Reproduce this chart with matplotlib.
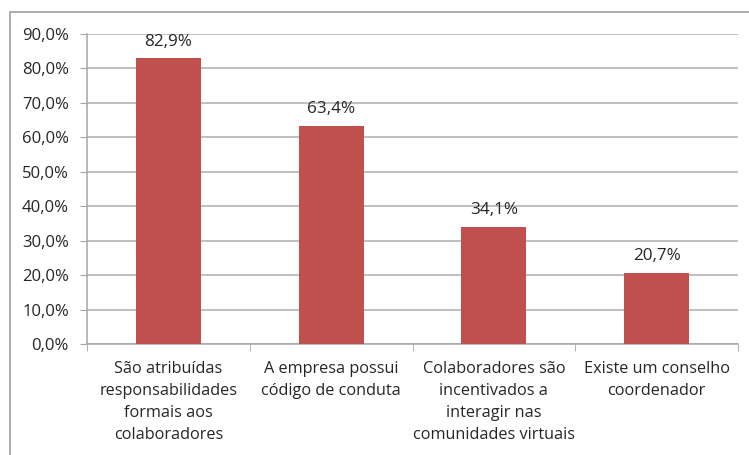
import matplotlib.pyplot as plt
from matplotlib.patches import Rectangle
from matplotlib.ticker import FuncFormatter, FixedLocator

# dados do gráfico
categorias = [
    "São atribuídas\nresponsabilidades\nformais aos\ncolaboradores",
    "A empresa possui\ncódigo de conduta",
    "Colaboradores são\nincentivados a\ninteragir nas\ncomunidades virtuais",
    "Existe um conselho\ncoordenador",
]
valores = [82.9, 63.4, 34.1, 20.7]
yticks = [0, 10, 20, 30, 40, 50, 60, 70, 80, 90]

plt.rcParams['font.family'] = ['Open Sans', 'DejaVu Sans']

fig = plt.figure(figsize=(7.49, 4.55), dpi=100)
# moldura externa
fig.patches.append(Rectangle((10 / 749, -0.05), 1.0, (455 - 12) / 455 + 0.05,
                             transform=fig.transFigure, fill=False,
                             edgecolor="#a6a6a6", linewidth=1.3))

ax = fig.add_axes([87 / 749, 1 - 344 / 455, (738 - 87) / 749, (344 - 34) / 455])
x = list(range(len(categorias)))
ax.bar(x, valores, width=0.4, color="#c0504d", zorder=3)

for xi, v in zip(x, valores):
    ax.annotate(f"{v:.1f}%".replace(".", ","), (xi, v), xytext=(0, 6),
                textcoords="offset points", ha="center", va="bottom",
                fontsize=12.3, color="#262626")

ax.set_xlim(-0.5, len(categorias) - 0.5)
ax.set_ylim(0, 90)
ax.set_yticks(yticks)
ax.yaxis.set_major_formatter(FuncFormatter(lambda v, p: f"{v:.1f}%".replace(".", ",")))
ax.grid(axis="y", color="#adadad", linewidth=1.1, zorder=0)

ax.set_xticks(x)
ax.set_xticklabels(categorias, linespacing=1.52)
ax.xaxis.set_minor_locator(FixedLocator([i - 0.5 for i in range(len(categorias) + 1)]))
ax.tick_params(axis="x", which="major", length=0, pad=12, labelsize=11.7, labelcolor="#262626")
ax.tick_params(axis="x", which="minor", length=5, color="#a6a6a6", direction="out")
ax.tick_params(axis="y", length=5, color="#a6a6a6", labelsize=12, labelcolor="#262626", pad=8)

for s in ["top", "right"]:
    ax.spines[s].set_visible(False)
for s in ["left", "bottom"]:
    ax.spines[s].set_color("#a6a6a6")
    ax.spines[s].set_linewidth(1.1)

fig.savefig("out.png", dpi=100)
